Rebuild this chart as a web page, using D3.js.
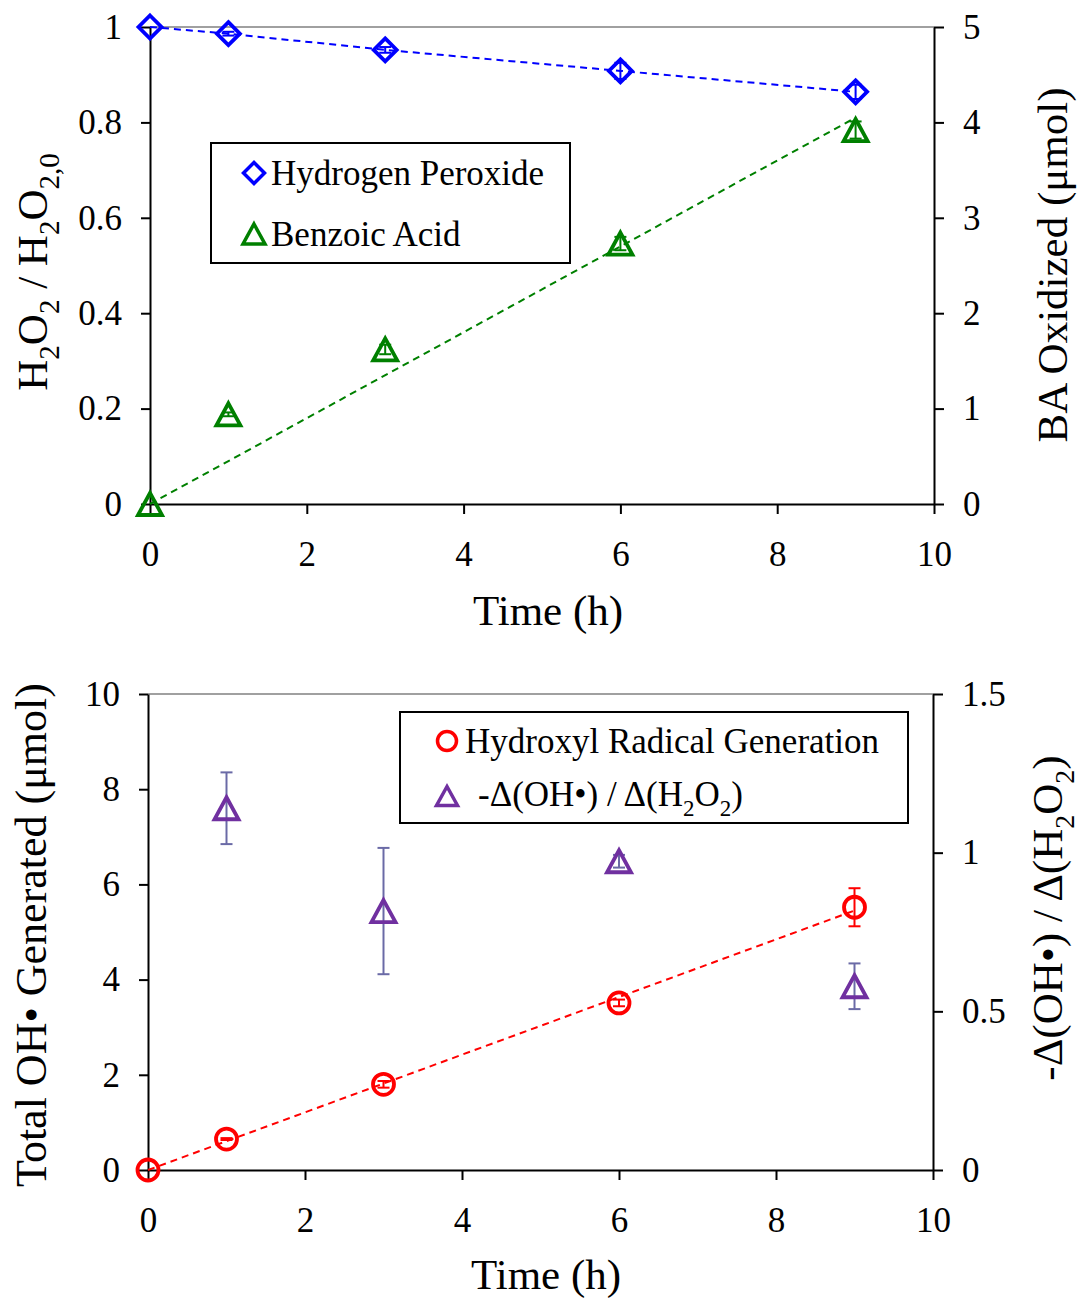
<!DOCTYPE html>
<html><head><meta charset="utf-8">
<script src="https://cdn.jsdelivr.net/npm/d3@7"></script>
<style>body{margin:0;background:#fff} svg text{font-family:'Liberation Serif','Times New Roman',serif;}</style>
</head><body><svg id="c" width="1080" height="1299" xmlns="http://www.w3.org/2000/svg"></svg>
<script>
// ---------- data ----------
const time = [0, 1, 3, 6, 9];
const h2o2Ratio = [1.0, 0.986, 0.952, 0.908, 0.864];
const h2o2Err = [0, 0.004, 0.006, 0.017, 0.015];
const baOxidized = [0, 0.94, 1.62, 2.73, 3.92];
const baErr = [0, 0.02, 0.05, 0.07, 0.09];
const baTrendTime = [0, 9];
const baTrend = [0, 4.05];
const ohGenerated = [0, 0.65, 1.80, 3.51, 5.52];
const ohErr = [0, 0.02, 0.07, 0.07, 0.40];
const ohTrendTime = [0, 9];
const ohTrend = [0, 5.45];
const ratioTime = [1, 3, 6, 9];
const ratio = [1.14, 0.816, 0.973, 0.579];
const ratioErr = [0.113, 0.199, 0.02, 0.072];
const xTicks = [0, 2, 4, 6, 8, 10];
const topLeftTicks = [0, 0.2, 0.4, 0.6, 0.8, 1];
const topRightTicks = [0, 1, 2, 3, 4, 5];
const botLeftTicks = [0, 2, 4, 6, 8, 10];
const botRightTicks = [0, 0.5, 1, 1.5];
const topLegend = ["Hydrogen Peroxide", "Benzoic Acid"];
const botLegend = ["Hydroxyl Radical Generation", "-Δ(OH•) / Δ(H2O2)"];

// ---------- setup ----------
const FONT = "'Liberation Serif','Times New Roman',serif";
const svg = d3.select("#c").attr("font-family", FONT);
const C = {blue: "#0000ff", green: "#008000", red: "#ff0000", purple: "#7030a0", purpleErr: "#6a6aa6"};

function diamondPath(cx, cy, r) { return `M${cx},${cy - r}L${cx + r},${cy}L${cx},${cy + r}L${cx - r},${cy}Z`; }
function trianglePath(cx, cy, w, h) { return `M${cx},${cy - h / 2}L${cx + w / 2},${cy + h / 2}L${cx - w / 2},${cy + h / 2}Z`; }

function styleAxis(g, fs) {
  g.attr("font-family", FONT).attr("font-size", fs);
  g.select(".domain").attr("stroke", "#000").attr("stroke-width", 2);
  g.selectAll(".tick line").attr("stroke", "#000").attr("stroke-width", 2);
  g.selectAll(".tick text").attr("fill", "#000").attr("font-family", FONT).attr("font-size", fs);
}

function panel(cfg) {
  const x = d3.scaleLinear().domain([0, 10]).range([cfg.x0, cfg.x1]);
  const yL = d3.scaleLinear().domain(cfg.yLDomain).range([cfg.y1, cfg.y0]);
  const yR = d3.scaleLinear().domain(cfg.yRDomain).range([cfg.y1, cfg.y0]);
  svg.append("line").attr("x1", cfg.x0).attr("x2", cfg.x1).attr("y1", cfg.y0).attr("y2", cfg.y0)
    .attr("stroke", "#a0a0a0").attr("stroke-width", 2);
  const gx = svg.append("g").attr("transform", `translate(0,${cfg.y1})`)
    .call(d3.axisBottom(x).tickValues(xTicks).tickFormat(d => String(d)).tickSizeInner(10).tickSizeOuter(0).tickPadding(27));
  styleAxis(gx, 35);
  const gl = svg.append("g").attr("transform", `translate(${cfg.x0},0)`)
    .call(d3.axisLeft(yL).tickValues(cfg.yLTicks).tickFormat(d => String(d)).tickSizeInner(9).tickSizeOuter(0).tickPadding(19));
  styleAxis(gl, 35);
  const gr = svg.append("g").attr("transform", `translate(${cfg.x1},0)`)
    .call(d3.axisRight(yR).tickValues(cfg.yRTicks).tickFormat(d => String(d)).tickSizeInner(10).tickSizeOuter(0).tickPadding(19));
  styleAxis(gr, 35);
  return {x, yL, yR};
}

function dashedLine(xs, ys, x, y, color) {
  const pts = xs.map((t, i) => [x(t), y(ys[i])]);
  svg.append("path").attr("d", d3.line()(pts)).attr("fill", "none")
    .attr("stroke", color).attr("stroke-width", 2).attr("stroke-dasharray", "7,5");
}

function errorBars(xs, vals, errs, x, y, color) {
  xs.forEach((t, i) => {
    const e = errs[i];
    if (!e) return;
    const cx = x(t), ya = y(vals[i] - e), yb = y(vals[i] + e);
    const g = svg.append("g").attr("stroke", color).attr("stroke-width", 2);
    g.append("line").attr("x1", cx).attr("x2", cx).attr("y1", ya).attr("y2", yb);
    g.append("line").attr("x1", cx - 6).attr("x2", cx + 6).attr("y1", ya).attr("y2", ya);
    g.append("line").attr("x1", cx - 6).attr("x2", cx + 6).attr("y1", yb).attr("y2", yb);
  });
}

function markers(xs, vals, x, y, shape, color) {
  xs.forEach((t, i) => {
    const cx = x(t), cy = y(vals[i]);
    if (shape === "circle") {
      svg.append("circle").attr("cx", cx).attr("cy", cy).attr("r", 10.5).attr("fill", "none")
        .attr("stroke", color).attr("stroke-width", 3.8);
    } else {
      const d = shape === "diamond" ? diamondPath(cx, cy, 11.5) : trianglePath(cx, cy, 24, 22);
      svg.append("path").attr("d", d).attr("fill", "none").attr("stroke", color)
        .attr("stroke-width", 3.8).attr("stroke-linejoin", "miter");
    }
  });
}

// text with subscripts: segments {t, sub}
function addSegments(textSel, segs, mainSize, subSize) {
  const shift = Math.round(mainSize * 0.28);
  let inSub = false;
  segs.forEach(s => {
    const ts = textSel.append("tspan").text(s.t);
    if (s.sub && !inSub) { ts.attr("dy", shift); inSub = true; }
    else if (!s.sub && inSub) { ts.attr("dy", -shift); inSub = false; }
    ts.attr("font-size", s.sub ? subSize : mainSize);
  });
}

// ---------- top panel ----------
const P1 = panel({x0: 150, x1: 934, y0: 27, y1: 504, yLDomain: [0, 1], yRDomain: [0, 5],
  yLTicks: topLeftTicks, yRTicks: topRightTicks});

dashedLine(time, h2o2Ratio, P1.x, P1.yL, C.blue);
dashedLine(baTrendTime, baTrend, P1.x, P1.yR, C.green);
errorBars(time, h2o2Ratio, h2o2Err, P1.x, P1.yL, C.blue);
errorBars(time, baOxidized, baErr, P1.x, P1.yR, C.green);
markers(time, h2o2Ratio, P1.x, P1.yL, "diamond", C.blue);
markers(time, baOxidized, P1.x, P1.yR, "triangle", C.green);

// legend top
svg.append("rect").attr("x", 211).attr("y", 143).attr("width", 359).attr("height", 120)
  .attr("fill", "#fff").attr("stroke", "#000").attr("stroke-width", 2);
svg.append("path").attr("d", diamondPath(254, 173, 10.5)).attr("fill", "none").attr("stroke", C.blue).attr("stroke-width", 3.5);
svg.append("path").attr("d", trianglePath(254, 234, 22, 20)).attr("fill", "none").attr("stroke", C.green).attr("stroke-width", 3.5);
svg.append("text").attr("x", 271).attr("y", 185).attr("font-size", 35).text(topLegend[0]);
svg.append("text").attr("x", 271).attr("y", 246).attr("font-size", 35).text(topLegend[1]);

// titles top
svg.append("text").attr("x", 548).attr("y", 625).attr("text-anchor", "middle").attr("font-size", 43).text("Time (h)");
{
  const t = svg.append("text").attr("transform", "translate(47,272) rotate(-90)").attr("text-anchor", "middle");
  addSegments(t, [{t: "H"}, {t: "2", sub: 1}, {t: "O"}, {t: "2", sub: 1}, {t: " / H"}, {t: "2", sub: 1}, {t: "O"}, {t: "2,0", sub: 1}], 43, 29);
}
svg.append("text").attr("transform", "translate(1067,265) rotate(-90)").attr("text-anchor", "middle")
  .attr("font-size", 43).text("BA Oxidized (μmol)");

// ---------- bottom panel ----------
const P2 = panel({x0: 148, x1: 933, y0: 694, y1: 1170, yLDomain: [0, 10], yRDomain: [0, 1.5],
  yLTicks: botLeftTicks, yRTicks: botRightTicks});

dashedLine(ohTrendTime, ohTrend, P2.x, P2.yL, C.red);
errorBars(time, ohGenerated, ohErr, P2.x, P2.yL, C.red);
errorBars(ratioTime, ratio, ratioErr, P2.x, P2.yR, C.purpleErr);
markers(time, ohGenerated, P2.x, P2.yL, "circle", C.red);
markers(ratioTime, ratio, P2.x, P2.yR, "triangle", C.purple);

// legend bottom
svg.append("rect").attr("x", 400).attr("y", 712).attr("width", 508).attr("height", 111)
  .attr("fill", "#fff").attr("stroke", "#000").attr("stroke-width", 2);
svg.append("circle").attr("cx", 447).attr("cy", 741).attr("r", 9.5).attr("fill", "none").attr("stroke", C.red).attr("stroke-width", 3.5);
svg.append("path").attr("d", trianglePath(447, 796, 21, 19)).attr("fill", "none").attr("stroke", C.purple).attr("stroke-width", 3.5);
svg.append("text").attr("x", 465).attr("y", 753).attr("font-size", 35).text(botLegend[0]);
{
  const t = svg.append("text").attr("x", 478).attr("y", 806);
  addSegments(t, [{t: "-Δ(OH•) / Δ(H"}, {t: "2", sub: 1}, {t: "O"}, {t: "2", sub: 1}, {t: ")"}], 35, 23);
}

// titles bottom
svg.append("text").attr("x", 546).attr("y", 1289).attr("text-anchor", "middle").attr("font-size", 43).text("Time (h)");
svg.append("text").attr("transform", "translate(46,935) rotate(-90)").attr("text-anchor", "middle")
  .attr("font-size", 44).text("Total OH• Generated (μmol)");
{
  const t = svg.append("text").attr("transform", "translate(1062,918) rotate(-90)").attr("text-anchor", "middle");
  addSegments(t, [{t: "-Δ(OH•) / Δ(H"}, {t: "2", sub: 1}, {t: "O"}, {t: "2", sub: 1}, {t: ")"}], 43, 28);
}
</script></body></html>
